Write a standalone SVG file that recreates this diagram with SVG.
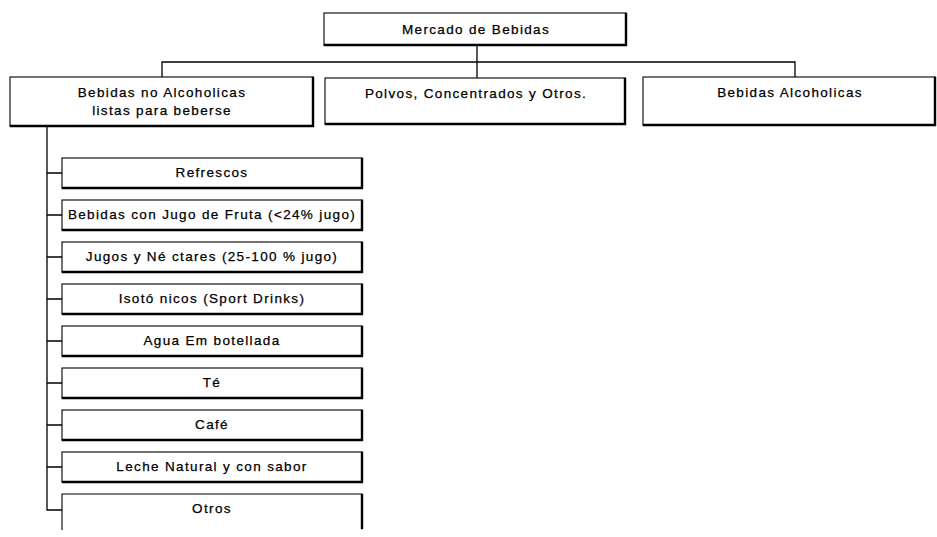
<svg xmlns="http://www.w3.org/2000/svg" width="937" height="537" viewBox="0 0 937 537">
  <style>
    .bg { fill: #ffffff; }
    .box { fill: #ffffff; stroke: #000; stroke-width: 1.1; }
    .shadow { fill: none; stroke: #000; stroke-width: 2.4; stroke-linecap: square; }
    .wire { fill: none; stroke: #000; stroke-width: 1.3; }
    .lbl { font-family: "Liberation Sans", Arial, Helvetica, sans-serif; font-size: 13.5px; letter-spacing: 1.35px; fill: #000; stroke: #000; stroke-width: 0.25; text-anchor: middle; }
  </style>
  <rect class="bg" x="0" y="0" width="937" height="537"/>

  <!-- connectors -->
  <g id="connectors">
    <path class="wire" d="M477 45 V78"/>
    <path class="wire" d="M162 77 V62 H795 V77"/>
    <path class="wire" d="M47 126 V510 H62"/>
    <path class="wire" d="M47 173 H62 M47 215 H62 M47 257 H62 M47 299 H62 M47 341 H62 M47 383 H62 M47 425 H62 M47 467 H62"/>
  </g>

  <!-- root -->
  <g id="mercado">
    <rect class="box" x="324" y="13" width="302" height="32"/>
    <path class="shadow" d="M626 14 V45 H325"/>
    <text class="lbl" x="476" y="34">Mercado de Bebidas</text>
  </g>

  <!-- first level -->
  <g id="no-alcoholicas">
    <rect class="box" x="10" y="77" width="303" height="49"/>
    <path class="shadow" d="M313 78 V126 H11"/>
    <text class="lbl" x="162" y="97">Bebidas no Alcoholicas</text>
    <text class="lbl" x="162" y="115">listas para beberse</text>
  </g>
  <g id="polvos">
    <rect class="box" x="325" y="78" width="300" height="46"/>
    <path class="shadow" d="M625 79 V124 H326"/>
    <text class="lbl" x="476" y="98">Polvos, Concentrados y Otros.</text>
  </g>
  <g id="alcoholicas">
    <rect class="box" x="643" y="77" width="292" height="48"/>
    <path class="shadow" d="M935 78 V125 H644"/>
    <text class="lbl" x="790" y="97">Bebidas Alcoholicas</text>
  </g>

  <!-- ready-to-drink categories -->
  <g id="refrescos">
    <rect class="box" x="62" y="158" width="300" height="30"/>
    <path class="shadow" d="M362 159 V188 H63"/>
    <text class="lbl" x="212" y="177">Refrescos</text>
  </g>
  <g id="jugo-fruta">
    <rect class="box" x="62" y="200" width="300" height="30"/>
    <path class="shadow" d="M362 201 V230 H63"/>
    <text class="lbl" x="212" y="219">Bebidas con Jugo de Fruta (&lt;24% jugo)</text>
  </g>
  <g id="jugos-nectares">
    <rect class="box" x="62" y="242" width="300" height="30"/>
    <path class="shadow" d="M362 243 V272 H63"/>
    <text class="lbl" x="212" y="261">Jugos y Né ctares (25-100 % jugo)</text>
  </g>
  <g id="isotonicos">
    <rect class="box" x="62" y="284" width="300" height="30"/>
    <path class="shadow" d="M362 285 V314 H63"/>
    <text class="lbl" x="212" y="303">Isotó nicos (Sport Drinks)</text>
  </g>
  <g id="agua">
    <rect class="box" x="62" y="326" width="300" height="30"/>
    <path class="shadow" d="M362 327 V356 H63"/>
    <text class="lbl" x="212" y="345">Agua Em botellada</text>
  </g>
  <g id="te">
    <rect class="box" x="62" y="368" width="300" height="30"/>
    <path class="shadow" d="M362 369 V398 H63"/>
    <text class="lbl" x="212" y="387">Té</text>
  </g>
  <g id="cafe">
    <rect class="box" x="62" y="410" width="300" height="30"/>
    <path class="shadow" d="M362 411 V440 H63"/>
    <text class="lbl" x="212" y="429">Café</text>
  </g>
  <g id="leche">
    <rect class="box" x="62" y="452" width="300" height="30"/>
    <path class="shadow" d="M362 453 V482 H63"/>
    <text class="lbl" x="212" y="471">Leche Natural y con sabor</text>
  </g>
  <g id="otros">
    <path class="box" d="M62 530 V494 H362"/>
    <path class="shadow" d="M362 495 V528"/>
    <text class="lbl" x="212" y="513">Otros</text>
  </g>
</svg>
